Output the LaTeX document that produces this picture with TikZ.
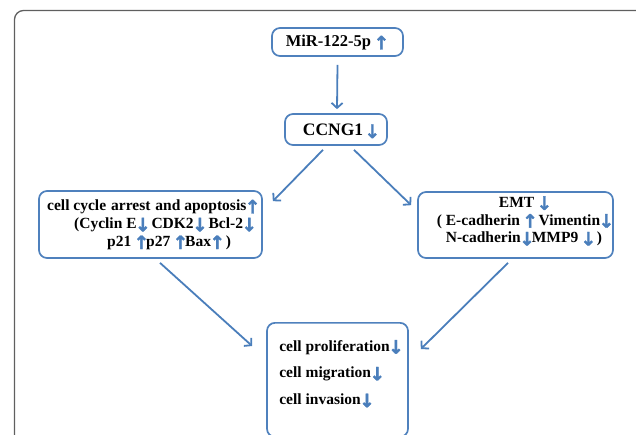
\documentclass[tikz,border=0pt]{standalone}
\usepackage{fontspec}
\setmainfont{Liberation Serif}
\newfontfamily\arrfont[FakeBold=2]{DejaVu Sans}
\usetikzlibrary{arrows.meta,calc}
\definecolor{boxblue}{HTML}{4F81BD}
\definecolor{arrblue}{HTML}{4A7EBB}
\definecolor{framegray}{HTML}{5F5F5F}
\newcommand{\ua}{\kern-1.5pt\raisebox{-2.5pt}{\smash{\fontsize{18.5}{18.5}\arrfont\color{arrblue}↑}}\kern-3pt}
\newcommand{\da}{\kern-1.5pt\raisebox{-2.5pt}{\smash{\fontsize{18.5}{18.5}\arrfont\color{arrblue}↓}}\kern-3pt}
\tikzset{
  box/.style={draw=boxblue, line width=1.7pt, rounded corners=8pt, inner sep=0pt},
  txt/.style={inner sep=0pt, font=\fontsize{15.5}{17.8}\selectfont\bfseries, align=center},
  conn/.style={draw=arrblue, line width=1.8pt, -{Straight Barb[length=5pt,width=11pt]}},
}
\begin{document}
\begin{tikzpicture}[x=1pt,y=1pt]
\useasboundingbox (0,0) rectangle (636,-434);
\begin{scope}
\clip (0,0) rectangle (636,-434);
\draw[framegray, line width=1.3pt, rounded corners=9pt] (14.5,-10.5) rectangle (650,-470);

\node[box, minimum width=131, minimum height=28] (mir) at (337.5,-42) {};
\node[box, minimum width=102, minimum height=31] (ccng) at (336,-129.5) {};
\node[box, minimum width=223, minimum height=67] (left) at (150.5,-224.5) {};
\node[box, minimum width=195, minimum height=66] (right) at (515.5,-225) {};
\node[box, minimum width=141, minimum height=114, anchor=north] (bottom) at (337.5,-322) {};

\node[txt, font=\fontsize{16.5}{18}\selectfont\bfseries] (mirtxt) at (336,-43) {MiR-122-5p \ua};
\node[txt, font=\fontsize{17.5}{18}\selectfont\bfseries] (ccngtxt) at (340,-131) {CCNG1\,\da};
\node[txt, anchor=north west, align=left] (lefttxt) at (47,-200)
  {cell cycle\hspace{5pt}arrest\hspace{5pt}and apoptosis\ua\\
   \hspace*{27pt}(Cyclin E\da\ CDK2\da\ Bcl-2\da\\
   \hspace*{60pt}p21 \ua p27 \ua Bax\ua\ )};
\node[txt, anchor=north] (righttxt) at (524,-197)
  {EMT \da\\
   ( E-cadherin \ua\ Vimentin\da\\
   N-cadherin\da MMP9 \da\ )};
\node[txt, anchor=north west, align=left] (bottomtxt) at ($(bottom.north west)+(13,-18)$)
  {cell proliferation\da\\[9pt]
   cell migration\da\\[9pt]
   cell invasion\da};

\draw[conn] ($(mir.south)+(0,-8)$) -- ($(ccng.north)+(1,4)$);
\draw[conn] ($(ccng.south)+(-13,-4)$) -- ($(left.north east)+(10,-11)$);
\draw[conn] ($(ccng.south)+(18,-4)$) -- ($(right.north west)+(-6,-14)$);
\draw[conn] ($(left.south)+(9.5,-4)$) -- ($(bottom.north west)+(-14,-24)$);
\draw[conn] ($(right.south)+(-7.5,-4)$) -- ($(bottom.north east)+(12,-27)$);
\end{scope}
\end{tikzpicture}
\end{document}
